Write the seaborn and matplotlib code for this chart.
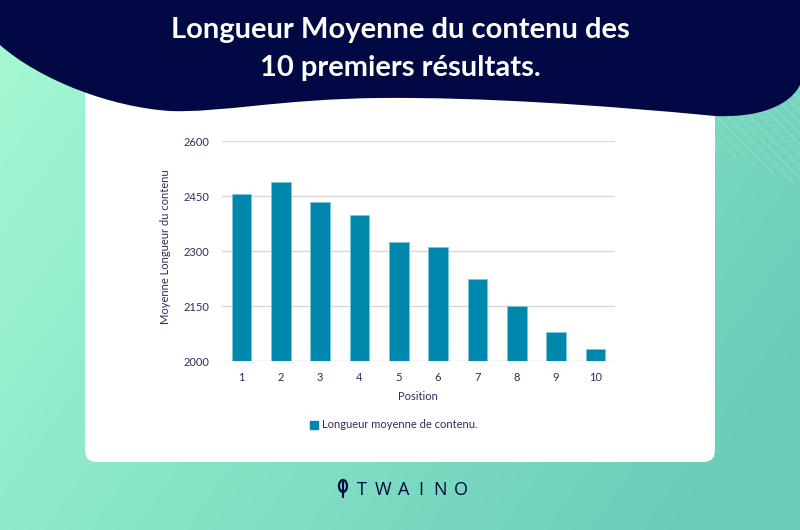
import numpy as np
import pandas as pd
import matplotlib
matplotlib.use('Agg')
import matplotlib.pyplot as plt
from matplotlib.patches import FancyBboxPatch, Polygon, Ellipse, Patch
from matplotlib.colors import LinearSegmentedColormap
from matplotlib.path import Path
from matplotlib.patches import PathPatch
import seaborn as sns

# Data
positions = ['1', '2', '3', '4', '5', '6', '7', '8', '9', '10']
longueur = [2455, 2490, 2434, 2400, 2324, 2310, 2224, 2149, 2079, 2034]
y_ticks = [2000, 2150, 2300, 2450, 2600]

TITLE = 'Longueur Moyenne du contenu des\n10 premiers résultats.'
SERIES = 'Longueur moyenne de contenu.'

NAVY = '#020843'
BAR = '#0087ad'
TXT = '#2b2d5c'

sns.set_theme(style='whitegrid')
plt.rcParams['font.family'] = ['Lato', 'DejaVu Sans']

W, H = 800, 530
fig = plt.figure(figsize=(8, 5.3), dpi=100)

# Background in pixel coordinates (y downwards)
bg = fig.add_axes([0, 0, 1, 1], zorder=0)
bg.set_xlim(0, W)
bg.set_ylim(H, 0)
bg.axis('off')

xx, yy = np.meshgrid(np.linspace(0, 1, 200), np.linspace(0, 1, 140))
grad = np.clip(0.75 * xx + 0.35 * yy, 0, 1)
cmap = LinearSegmentedColormap.from_list('bg', ['#a6fad4', '#86e3c6', '#6acdb8'])
bg.imshow(grad, extent=[0, W, H, 0], cmap=cmap, aspect='auto', zorder=0)

# faint diagonal hatching at top right
plt.rcParams['hatch.linewidth'] = 0.6
hatch = Polygon([(715, 95), (800, 60), (800, 185), (715, 150)], closed=True,
                facecolor='none', edgecolor=(1, 1, 1, 0.25), hatch='\\\\\\',
                linewidth=0, zorder=1)
bg.add_patch(hatch)

# white card
card = FancyBboxPatch((85, 80), 630, 382, boxstyle='round,pad=0,rounding_size=12',
                      facecolor='white', edgecolor='none', zorder=2)
bg.add_patch(card)

# navy wavy banner
verts = [(0, 0), (800, 0), (800, 85),
         (790, 105), (760, 118), (715, 116),
         (600, 105), (480, 97), (380, 98),
         (280, 99), (220, 113), (170, 111),
         (110, 107), (40, 80), (0, 45),
         (0, 0)]
codes = [Path.MOVETO, Path.LINETO, Path.LINETO,
         Path.CURVE4, Path.CURVE4, Path.CURVE4,
         Path.CURVE4, Path.CURVE4, Path.CURVE4,
         Path.CURVE4, Path.CURVE4, Path.CURVE4,
         Path.CURVE4, Path.CURVE4, Path.CURVE4,
         Path.CLOSEPOLY]
bg.add_patch(PathPatch(Path(verts, codes), facecolor=NAVY, edgecolor='none', zorder=3))

bg.text(400, 49, TITLE, ha='center', va='center', color='white',
        fontsize=21, fontweight='bold', linespacing=1.55, zorder=4)

# logo
bg.add_patch(Ellipse((343, 486), 8, 12, facecolor='none', edgecolor=NAVY, lw=1.6, zorder=4))
bg.plot([343, 343], [482, 497], color=NAVY, lw=1.6, zorder=4)
for lx, letter in zip([362, 383, 404, 421, 440, 461], 'TWAINO'):
    bg.text(lx, 490, letter, ha='center', va='center', color=NAVY,
            fontsize=13, family=['Open Sans', 'DejaVu Sans'], zorder=4)

# the chart itself
df = pd.DataFrame({'Position': positions, 'Longueur': longueur})
ax = fig.add_axes([221.7 / W, 1 - 361 / H, 393.3 / W, 219.7 / H], zorder=5)
ax.patch.set_alpha(0)
sns.barplot(data=df, x='Position', y='Longueur', color=BAR, width=0.5,
            edgecolor='#7fc6da', linewidth=0.6, saturation=1, ax=ax, zorder=3)

ax.set_ylim(2000, 2600)
ax.set_yticks(y_ticks)
ax.set_xlim(-0.5, 9.5)
ax.grid(axis='y', color='#d9d9d9', linewidth=1)
ax.grid(axis='x', visible=False)
for s in ax.spines.values():
    s.set_visible(False)
ax.tick_params(axis='both', colors=TXT, labelsize=8, length=0)
ax.tick_params(axis='y', pad=9)
ax.tick_params(axis='x', pad=8)
ax.set_xlabel('Position', color=TXT, fontsize=8, labelpad=6)
ax.set_ylabel('Moyenne Longueur du contenu', color=TXT, fontsize=8)
ax.yaxis.set_label_coords(-0.13, 0.52)

fig.legend(handles=[Patch(color=BAR, label=SERIES)], loc='center',
           bbox_to_anchor=(394 / W, 1 - 425 / H), frameon=False,
           handlelength=0.7, handleheight=0.7, handletextpad=0.4,
           fontsize=8, labelcolor=TXT)

fig.savefig('out.png', dpi=100)
